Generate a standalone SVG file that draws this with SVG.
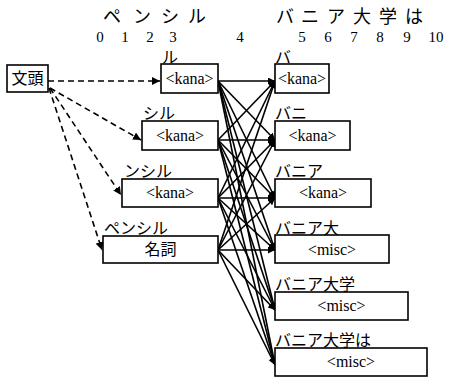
<svg xmlns="http://www.w3.org/2000/svg" width="452" height="379" viewBox="0 0 452 379">
<defs>
<marker id="ah" viewBox="0 0 10 10" refX="10" refY="5" markerWidth="7" markerHeight="7" markerUnits="userSpaceOnUse" orient="auto">
<path d="M0,0 L10,5 L0,10 z" fill="#000"/>
</marker>
<marker id="ahd" viewBox="0 0 10 10" refX="10" refY="5" markerWidth="8" markerHeight="8" markerUnits="userSpaceOnUse" orient="auto">
<path d="M0,0 L10,5 L0,10 z" fill="#000"/>
</marker>
<style>
.box{fill:#fff;stroke:#000;stroke-width:1.6}
.ser{font-family:"Liberation Serif","Times New Roman",serif;font-size:16px;fill:#000}
.num{font-family:"Liberation Serif","Times New Roman",serif;font-size:15px;fill:#000;text-anchor:middle}
.jp{font-family:"Noto Sans CJK JP","Noto Sans CJK SC",sans-serif;font-size:16px;fill:#000}
.hd{font-family:"Noto Sans CJK JP","Noto Sans CJK SC",sans-serif;font-size:18px;fill:#000;text-anchor:middle}
.sol{stroke:#000;stroke-width:1.6;fill:none;marker-end:url(#ah)}
.dsh{stroke:#000;stroke-width:1.6;fill:none;stroke-dasharray:6,4;marker-end:url(#ahd)}
.c{text-anchor:middle}
</style>
</defs>
<rect width="452" height="379" fill="#fff"/>
<g id="header">
<text class="hd" x="112" y="23">ペ</text>
<text class="hd" x="142" y="23">ン</text>
<text class="hd" x="170" y="23">シ</text>
<text class="hd" x="197" y="23">ル</text>
<text class="hd" x="285" y="23">バ</text>
<text class="hd" x="310" y="23">ニ</text>
<text class="hd" x="336" y="23">ア</text>
<text class="hd" x="362" y="23">大</text>
<text class="hd" x="388" y="23">学</text>
<text class="hd" x="414" y="23">は</text>
<text class="num" x="100" y="41.5">0</text>
<text class="num" x="125" y="41.5">1</text>
<text class="num" x="150" y="41.5">2</text>
<text class="num" x="173" y="41.5">3</text>
<text class="num" x="240" y="41.5">4</text>
<text class="num" x="302" y="41.5">5</text>
<text class="num" x="328" y="41.5">6</text>
<text class="num" x="354" y="41.5">7</text>
<text class="num" x="380" y="41.5">8</text>
<text class="num" x="407" y="41.5">9</text>
<text class="num" x="436" y="41.5">10</text>
</g>
<g id="connectors">
<line class="dsh" x1="48" y1="81" x2="160" y2="81"/>
<line class="dsh" x1="50" y1="88" x2="141" y2="140"/>
<line class="dsh" x1="50" y1="88" x2="121" y2="195"/>
<line class="dsh" x1="49" y1="88" x2="102" y2="250"/>
<line class="sol" x1="218" y1="81" x2="275" y2="81"/>
<line class="sol" x1="218" y1="81" x2="275" y2="140"/>
<line class="sol" x1="218" y1="81" x2="275" y2="198"/>
<line class="sol" x1="218" y1="81" x2="275" y2="250"/>
<line class="sol" x1="218" y1="81" x2="275" y2="310"/>
<line class="sol" x1="218" y1="81" x2="275" y2="365"/>
<line class="sol" x1="218" y1="140" x2="275" y2="81"/>
<line class="sol" x1="218" y1="140" x2="275" y2="140"/>
<line class="sol" x1="218" y1="140" x2="275" y2="198"/>
<line class="sol" x1="218" y1="140" x2="275" y2="250"/>
<line class="sol" x1="218" y1="140" x2="275" y2="310"/>
<line class="sol" x1="218" y1="140" x2="275" y2="365"/>
<line class="sol" x1="218" y1="198" x2="275" y2="81"/>
<line class="sol" x1="218" y1="198" x2="275" y2="140"/>
<line class="sol" x1="218" y1="198" x2="275" y2="198"/>
<line class="sol" x1="218" y1="198" x2="275" y2="250"/>
<line class="sol" x1="218" y1="198" x2="275" y2="310"/>
<line class="sol" x1="218" y1="198" x2="275" y2="365"/>
<line class="sol" x1="218" y1="250" x2="275" y2="81"/>
<line class="sol" x1="218" y1="250" x2="275" y2="140"/>
<line class="sol" x1="218" y1="250" x2="275" y2="198"/>
<line class="sol" x1="218" y1="250" x2="275" y2="250"/>
<line class="sol" x1="218" y1="250" x2="275" y2="310"/>
<line class="sol" x1="218" y1="250" x2="275" y2="365"/>
</g>
<g id="bunto">
<rect class="box" x="7" y="65" width="41" height="27"/>
<text class="jp c" x="27.5" y="84">文頭</text>
</g>
<g id="L1">
<text class="jp" x="162" y="63">ル</text>
<rect class="box" x="161" y="64" width="57" height="29"/>
<text class="ser c" x="189.5" y="84">&lt;kana&gt;</text>
</g>
<g id="L2">
<text class="jp" x="143" y="119">シル</text>
<rect class="box" x="142" y="121" width="76" height="29"/>
<text class="ser c" x="180" y="141">&lt;kana&gt;</text>
</g>
<g id="L3">
<text class="jp" x="124" y="177">ンシル</text>
<rect class="box" x="122" y="179" width="96" height="28"/>
<text class="ser c" x="170" y="198">&lt;kana&gt;</text>
</g>
<g id="L4">
<text class="jp" x="104" y="234">ペンシル</text>
<rect class="box" x="103" y="236" width="115" height="27"/>
<text class="jp c" x="160.5" y="255">名詞</text>
</g>
<g id="R1">
<text class="jp" x="275" y="63">バ</text>
<rect class="box" x="275" y="64" width="54" height="29"/>
<text class="ser c" x="302" y="84">&lt;kana&gt;</text>
</g>
<g id="R2">
<text class="jp" x="275" y="119">バニ</text>
<rect class="box" x="275" y="121" width="75" height="29"/>
<text class="ser c" x="312.5" y="141">&lt;kana&gt;</text>
</g>
<g id="R3">
<text class="jp" x="275" y="177">バニア</text>
<rect class="box" x="275" y="179" width="96" height="28"/>
<text class="ser c" x="323" y="198">&lt;kana&gt;</text>
</g>
<g id="R4">
<text class="jp" x="275" y="234">バニア大</text>
<rect class="box" x="275" y="235" width="114" height="28"/>
<text class="ser c" x="332" y="255">&lt;misc&gt;</text>
</g>
<g id="R5">
<text class="jp" x="275" y="290">バニア大学</text>
<rect class="box" x="275" y="292" width="133" height="28"/>
<text class="ser c" x="341.5" y="311">&lt;misc&gt;</text>
</g>
<g id="R6">
<text class="jp" x="275" y="346">バニア大学は</text>
<rect class="box" x="275" y="348" width="152" height="28"/>
<text class="ser c" x="351" y="367">&lt;misc&gt;</text>
</g>
</svg>
